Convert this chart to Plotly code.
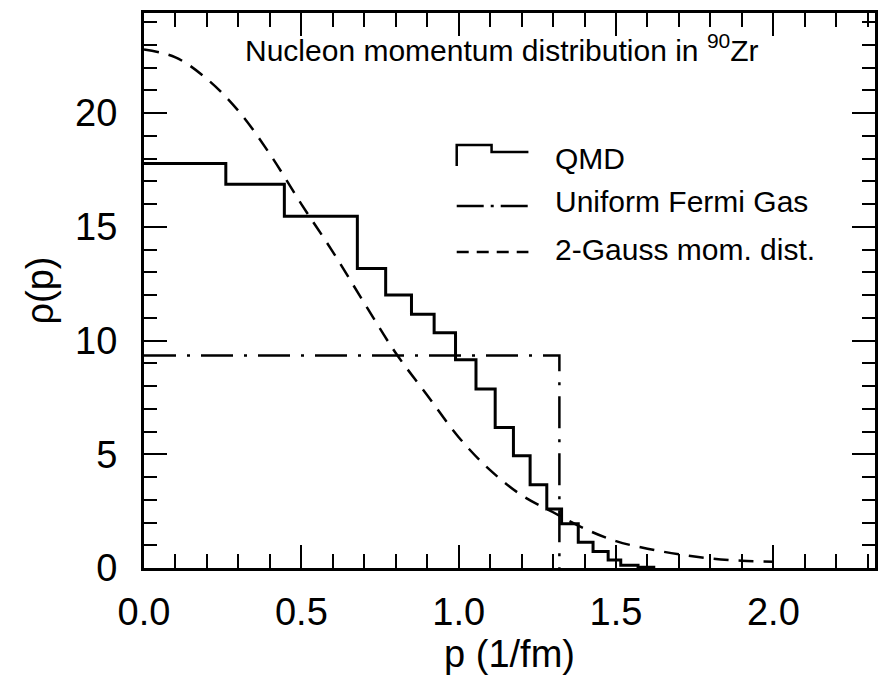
import plotly.graph_objects as go

# ---- data ----
qmd_edges = [0.0, 0.26, 0.446, 0.678, 0.768, 0.850, 0.922, 0.990, 1.055, 1.116,
             1.174, 1.227, 1.280, 1.327, 1.380, 1.427, 1.475, 1.515, 1.570, 1.620]
qmd_values = [17.78, 16.87, 15.46, 13.17, 12.0, 11.16, 10.34, 9.16, 7.87, 6.18,
              4.93, 3.66, 2.59, 1.95, 1.13, 0.72, 0.35, 0.12, 0.03]

fermi_p = [0.0, 1.32, 1.32]
fermi_rho = [9.34, 9.34, 0.0]

gauss_p = [0.0, 0.1, 0.2, 0.3, 0.4, 0.5, 0.6, 0.7, 0.8, 0.9, 1.0,
           1.1, 1.2, 1.3, 1.4, 1.5, 1.6, 1.7, 1.8, 1.9, 2.0]
gauss_rho = [22.8, 22.45, 21.5, 20.1, 18.2, 16.0, 13.9, 11.65, 9.45, 7.6, 5.75,
             4.3, 3.2, 2.45, 1.73, 1.18, 0.85, 0.6, 0.42, 0.32, 0.28]

x_ticks = [0.0, 0.5, 1.0, 1.5, 2.0]
y_ticks = [0, 5, 10, 15, 20]

title_text = "Nucleon momentum distribution in <sup>90</sup>Zr"
legend_labels = ["QMD", "Uniform Fermi Gas", "2-Gauss mom. dist."]

FONT = "Liberation Sans, Arial, Helvetica, sans-serif"

fig = go.Figure()

# QMD histogram (step)
fig.add_trace(go.Scatter(
    x=qmd_edges, y=qmd_values + [0.0], mode="lines", line_shape="hv",
    line=dict(color="black", width=3), showlegend=False, hoverinfo="skip"))

# Uniform Fermi gas
fig.add_trace(go.Scatter(
    x=fermi_p, y=fermi_rho, mode="lines",
    line=dict(color="black", width=2.5, dash="32px,11px,3px,11px"),
    showlegend=False, hoverinfo="skip"))

# 2-Gauss momentum distribution
fig.add_trace(go.Scatter(
    x=gauss_p, y=gauss_rho, mode="lines", line_shape="spline",
    line=dict(color="black", width=2.5, dash="15px,10px"),
    showlegend=False, hoverinfo="skip"))

# ---- layout geometry (pixels) ----
W, H = 879, 692
L, R, T, B = 144, 878, 13, 568
pw, ph = R - L, B - T


def px(x):
    return (x - L) / pw


def py(y):
    return (B - y) / ph


shapes = []
# legend sample: step icon
shapes.append(dict(type="path", xref="paper", yref="paper",
                   path=f"M {px(458)},{py(166)} L {px(458)},{py(145)} L {px(493)},{py(145)} "
                        f"L {px(493)},{py(152)} L {px(530)},{py(152)}",
                   line=dict(color="black", width=2.5)))
# legend sample: dash-dot
shapes.append(dict(type="line", xref="paper", yref="paper",
                   x0=px(458), x1=px(530), y0=py(206), y1=py(206),
                   line=dict(color="black", width=2.5, dash="27px,7px,3px,7px")))
# legend sample: dashed
shapes.append(dict(type="line", xref="paper", yref="paper",
                   x0=px(458), x1=px(530), y0=py(252), y1=py(252),
                   line=dict(color="black", width=2.5, dash="12px,8px")))

annotations = [
    dict(text=title_text, xref="paper", yref="paper", x=px(764), y=py(48),
         xanchor="right", yanchor="middle", showarrow=False,
         font=dict(family=FONT, size=30, color="black")),
]
for lbl, yy in zip(legend_labels, [158, 202, 250]):
    annotations.append(dict(text=lbl, xref="paper", yref="paper", x=px(555), y=py(yy),
                            xanchor="left", yanchor="middle", showarrow=False,
                            font=dict(family=FONT, size=30, color="black")))

axis_common = dict(
    showline=True, linecolor="black", linewidth=3, mirror="allticks",
    ticks="inside", ticklen=23, tickwidth=2, tickcolor="black",
    showgrid=False, zeroline=False,
    tickfont=dict(family=FONT, size=38, color="black"),
)

fig.update_layout(
    width=W, height=H,
    margin=dict(l=L, r=W - R, t=T, b=H - B),
    paper_bgcolor="white", plot_bgcolor="white",
    shapes=shapes, annotations=annotations,
    xaxis=dict(range=[0, 2.323], tickvals=x_ticks,
               ticktext=[f"{v:.1f}" for v in x_ticks],
               minor=dict(dtick=0.1, ticks="inside", ticklen=14, tickwidth=2,
                          tickcolor="black", showgrid=False),
               ticklabelstandoff=8,
               title=dict(text="p (1/fm)", font=dict(family=FONT, size=38, color="black"),
                          standoff=6),
               **axis_common),
    yaxis=dict(range=[0, 24.4], tickvals=y_ticks,
               ticktext=[str(v) for v in y_ticks],
               minor=dict(dtick=1, ticks="inside", ticklen=13, tickwidth=2,
                          tickcolor="black", showgrid=False),
               ticklabelstandoff=16,
               title=dict(text="ρ(p)", font=dict(family=FONT, size=38, color="black"),
                          standoff=10),
               **axis_common),
)

fig.write_html("out.html")
